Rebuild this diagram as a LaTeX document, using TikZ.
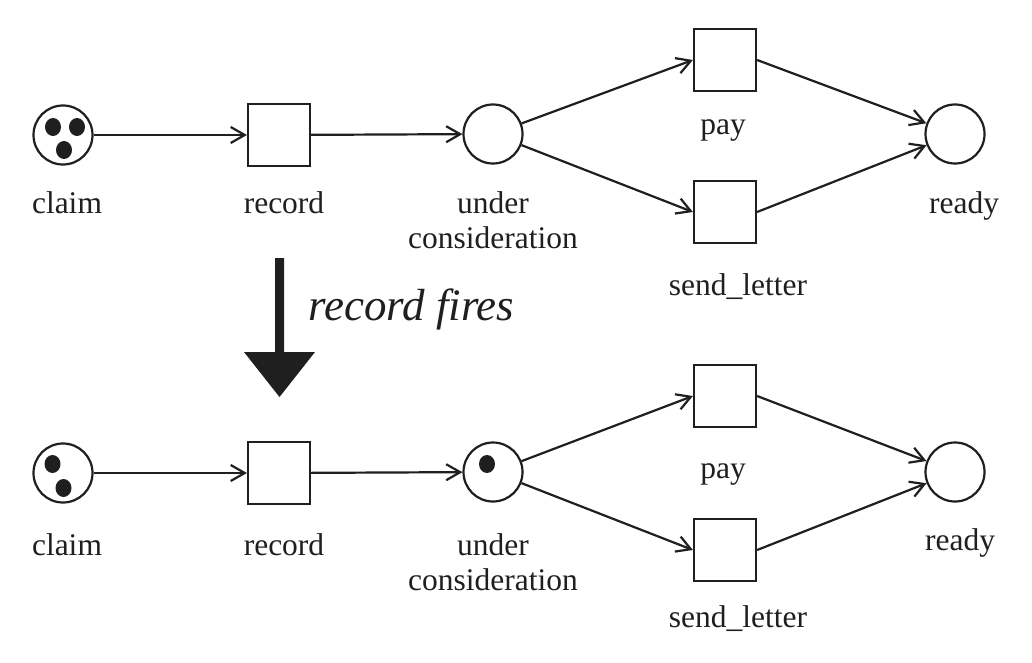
\documentclass[tikz,border=0pt]{standalone}
\usepackage{fontspec}
\setmainfont{Liberation Serif}
\usetikzlibrary{arrows.meta,shapes.geometric}
\begin{document}
\begin{tikzpicture}[x=1pt,y=-1pt,
  place/.style={circle,draw=black!88,line width=2.2pt,minimum size=59pt,inner sep=0pt},
  trans/.style={rectangle,draw=black!88,line width=2.2pt,minimum size=62pt,inner sep=0pt},
  token/.style={ellipse,fill=black!88,draw=none,minimum width=16pt,minimum height=18pt,inner sep=0pt},
  lab/.style={anchor=base,inner sep=0pt,text=black!88,font=\fontsize{31.5}{35}\selectfont},
  arc/.style={draw=black!88,line width=2.2pt,-{Straight Barb[length=14pt,width=16pt,line width=2.2pt]}},
  bigtxt/.style={anchor=base west,inner sep=0pt,text=black!88,font=\fontsize{45}{50}\selectfont\itshape}]
\useasboundingbox (0,0) rectangle (1032,663);
\fill[white] (0,0) rectangle (1032,663);

% ---------- top net ----------
\node[place] (claimA) at (63,135) {};
\node[trans] (recordA) at (279,135) {};
\node[place] (ucA) at (493,134) {};
\node[trans] (payA) at (725,60) {};
\node[trans] (sendA) at (725,212) {};
\node[place] (readyA) at (955,134) {};

\node[token] (tA1) at (53,127) {};
\node[token] (tA2) at (77,127) {};
\node[token] (tA3) at (64,150) {};

\node[lab] (lclaimA) at (67,213) {claim};
\node[lab] (lrecordA) at (284,213) {record};
\node[lab,align=center] (lucA) at (493,248) {under\\consideration};
\node[lab] (lpayA) at (723,135) {pay};
\node[lab] (lsendA) at (738,295) {send\_letter};
\node[lab] (lreadyA) at (964,213) {ready};

\draw[arc] (claimA) -- (recordA);
\draw[arc] (recordA) -- (ucA);
\draw[arc] (ucA) -- (payA.west);
\draw[arc] (ucA) -- (sendA.west);
\draw[arc] (payA.east) -- (readyA);
\draw[arc] (sendA.east) -- (readyA);

% ---------- firing arrow ----------
\fill[black!88] (275,258) -- (284,258) -- (284,352) -- (315,352) -- (279.5,397) -- (244,352) -- (275,352) -- cycle;
\node[bigtxt] (fires) at (308,320) {record fires};

% ---------- bottom net ----------
\node[place] (claimB) at (63,473) {};
\node[trans] (recordB) at (279,473) {};
\node[place] (ucB) at (493,472) {};
\node[trans] (payB) at (725,396) {};
\node[trans] (sendB) at (725,550) {};
\node[place] (readyB) at (955,472) {};

\node[token] (tB1) at (52.5,464) {};
\node[token] (tB2) at (63.5,488) {};
\node[token] (tB3) at (487,464) {};

\node[lab] (lclaimB) at (67,555) {claim};
\node[lab] (lrecordB) at (284,555) {record};
\node[lab,align=center] (lucB) at (493,590) {under\\consideration};
\node[lab] (lpayB) at (723,478) {pay};
\node[lab] (lsendB) at (738,627) {send\_letter};
\node[lab] (lreadyB) at (960,550) {ready};

\draw[arc] (claimB) -- (recordB);
\draw[arc] (recordB) -- (ucB);
\draw[arc] (ucB) -- (payB.west);
\draw[arc] (ucB) -- (sendB.west);
\draw[arc] (payB.east) -- (readyB);
\draw[arc] (sendB.east) -- (readyB);
\end{tikzpicture}
\end{document}
